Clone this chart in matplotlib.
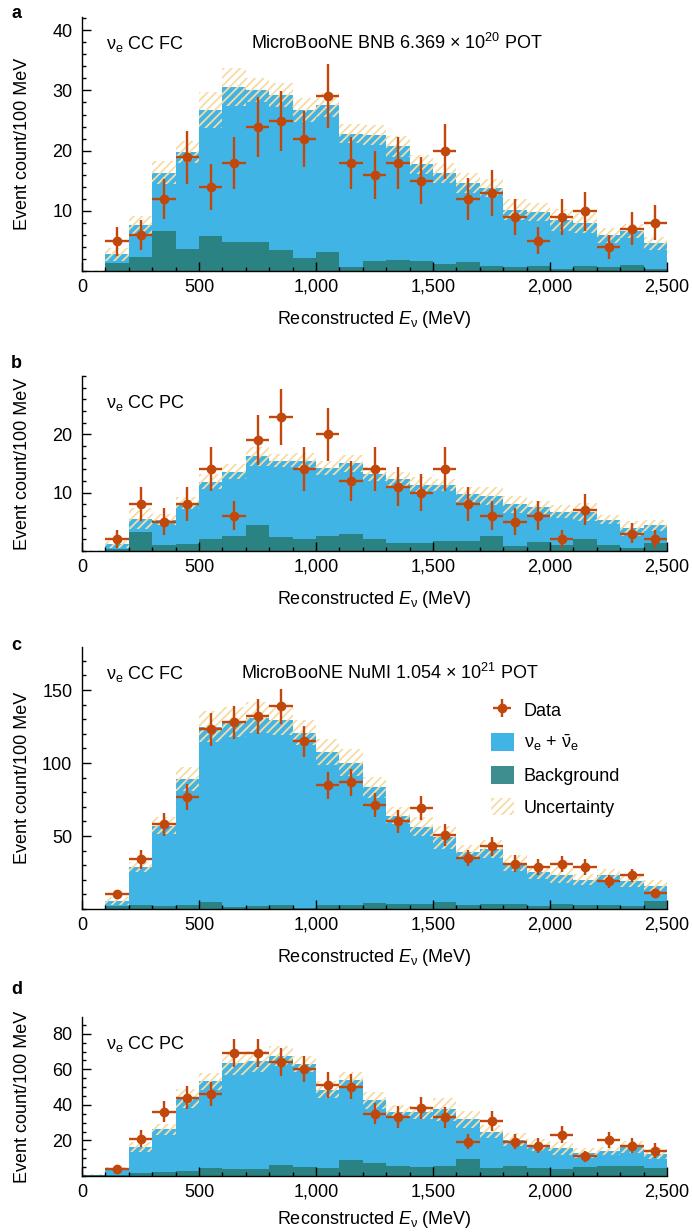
import numpy as np
import matplotlib
matplotlib.use('Agg')
import matplotlib.pyplot as plt
from matplotlib.patches import Patch
from matplotlib.ticker import MultipleLocator

plt.rcParams['font.family'] = ['Liberation Sans', 'DejaVu Sans']
plt.rcParams['mathtext.fontset'] = 'custom'
plt.rcParams['mathtext.rm'] = 'Liberation Sans'
plt.rcParams['mathtext.it'] = 'Liberation Sans:italic'
plt.rcParams['mathtext.bf'] = 'Liberation Sans:bold'
plt.rcParams['hatch.linewidth'] = 1.3

# ---------------- data ----------------
bin_edges = [0, 100, 200, 300, 400, 500, 600, 700, 800, 900, 1000, 1100, 1200,
             1300, 1400, 1500, 1600, 1700, 1800, 1900, 2000, 2100, 2200, 2300,
             2400, 2500]
xtick_vals = [0, 500, 1000, 1500, 2000, 2500]
xtick_labels = ['0', '500', '1,000', '1,500', '2,000', '2,500']

# panel a : nu_e CC FC, BNB
total_a = [0, 2.8, 7.6, 16.3, 19.8, 26.8, 30.6, 30.1, 29.2, 26.8, 27.6, 22.8, 22.6,
           20.7, 17.7, 16.3, 14.6, 13.8, 10.2, 9.8, 8.5, 8.0, 5.9, 6.6, 4.6]
unc_a = [0.2, 1.1, 1.5, 1.9, 1.8, 3.0, 3.2, 2.0, 2.0, 2.0, 2.0, 1.6, 1.7, 1.8, 1.6,
         1.6, 1.6, 1.5, 1.8, 1.5, 1.8, 1.7, 1.3, 1.2, 1.1]
bkg_a = [0, 1.3, 2.3, 6.6, 3.7, 5.8, 4.9, 4.8, 3.5, 2.2, 3.1, 0.7, 1.6, 1.9, 1.7,
         1.2, 1.5, 0.9, 0.7, 0.8, 0.4, 0.8, 0.7, 1.0, 0.3]
data_a = [5, 6, 12, 19, 14, 18, 24, 25, 22, 29, 18, 16, 18, 15, 20, 12, 13, 9, 5, 9,
          10, 4, 7, 8]
errlo_a = [2.5, 2.5, 3.4, 4.5, 3.8, 4.3, 5.0, 5.0, 4.8, 5.3, 4.3, 4.1, 4.3, 3.9, 4.7,
           3.6, 3.8, 3.1, 2.1, 3.1, 3.3, 2.0, 2.6, 2.9]
errhi_a = [2.3, 2.4, 3.3, 4.3, 3.7, 4.2, 4.9, 4.9, 4.6, 5.4, 4.2, 4.0, 4.2, 3.9, 4.4,
           3.4, 3.7, 3.0, 2.3, 3.0, 3.2, 2.0, 2.8, 2.9]

# panel b : nu_e CC PC, BNB
total_b = [0, 1.2, 5.5, 5.4, 8.2, 11.9, 13.6, 16.2, 15.5, 15.4, 14.3, 15.0, 13.2,
           12.3, 11.3, 11.3, 9.7, 9.4, 8.0, 7.5, 6.7, 6.7, 5.4, 3.9, 4.4]
unc_b = [0.1, 0.6, 1.8, 0.9, 1.0, 1.25, 1.3, 1.6, 1.1, 1.4, 1.2, 1.5, 1.2, 1.3, 1.4,
         1.1, 1.3, 1.5, 1.4, 1.1, 1.1, 1.5, 0.85, 1.3, 1.0]
bkg_b = [0, 0.4, 3.3, 1.1, 1.2, 2.1, 2.5, 4.4, 2.4, 2.1, 2.6, 3.0, 2.1, 1.4, 1.3,
         1.7, 1.8, 2.5, 0.8, 1.6, 1.1, 2.0, 1.1, 0.6, 1.4]
data_b = [2, 8, 5, 8, 14, 6, 19, 23, 14, 20, 12, 14, 11, 10, 14, 8, 6, 5, 6, 2, 7,
          np.nan, 3, 2]
errlo_b = [1.4, 2.8, 2.3, 2.8, 3.7, 2.4, 4.2, 4.9, 3.7, 4.5, 3.4, 3.7, 3.3, 3.1, 3.7,
           2.8, 2.4, 2.3, 2.4, 1.4, 2.6, np.nan, 1.7, 1.4]
errhi_b = [1.6, 3.0, 2.3, 3.0, 3.8, 2.5, 4.3, 4.7, 3.8, 4.5, 3.5, 3.8, 3.4, 3.2, 3.8,
           3.0, 2.5, 2.3, 2.5, 1.6, 2.7, np.nan, 1.8, 1.6]

# panel c : nu_e CC FC, NuMI
total_c = [0, 5.5, 29, 57, 89, 125, 128, 131, 129.5, 120.8, 107.6, 100.3, 83.4, 64,
           56.3, 49, 39.2, 41, 31.5, 25.1, 23.5, 20.1, 23.5, 18.9, 16]
unc_c = [0, 2.7, 3.5, 5.7, 8, 10.7, 10.5, 10.5, 10.5, 8.7, 9.1, 9.1, 7.3, 6, 6.6,
         8.2, 4.8, 6.0, 5.4, 4.8, 5.7, 3.8, 3.9, 3.9, 3.6]
bkg_c = [0, 1.8, 2.7, 2, 2.7, 4.5, 1.2, 2.2, 2.5, 1, 2.5, 2.5, 4, 3.4, 3.4, 4.5, 2.4,
         3.6, 3.4, 2, 3.4, 2.7, 2.7, 2.3, 5.5]
data_c = [10, 34, 58, 77, 123, 128, 132, 139, 115, 85, 87, 71, 60, 69, 51, 35, 43,
          31, 29, 31, 29, 19, 23, 11]
errlo_c = [3.0, 6.3, 8.1, 9.1, 11, 11.3, 12.1, 12.2, 10.8, 9.3, 9.3, 8.3, 8.2, 8.3,
           7.7, 5.8, 6.5, 5.8, 5.5, 5.7, 5.5, 4.8, 4.5, 3.4]
errhi_c = [2.9, 6.2, 7.9, 8.6, 11, 11, 11.9, 11.8, 10.4, 8.9, 9.0, 8.6, 7.7, 8.4,
           7.3, 5.6, 6.3, 5.7, 5.0, 5.0, 5.2, 4.3, 4.6, 3.0]

# panel d : nu_e CC PC, NuMI
total_d = [0.8, 4.5, 16.3, 26.3, 43.5, 53.3, 63.5, 64.5, 67.6, 63.1, 48.5, 54.1,
           42.5, 36.2, 35.9, 37.5, 31.9, 25, 20.5, 17.5, 15.6, 12.8, 14.1, 16.5, 12.6]
unc_d = [0.3, 0.8, 2.7, 3.0, 5.5, 4.8, 6.5, 5.8, 5.6, 4.5, 4.7, 4.5, 5.0, 3.6, 3.7,
         6.3, 4.9, 3.4, 3.5, 3.2, 3.7, 2.8, 2.3, 3.4, 3.0]
bkg_d = [0.4, 0.8, 1.5, 2.0, 2.7, 4.5, 4.1, 4.1, 6.2, 5.3, 4.5, 8.9, 7.5, 5.6, 5.0,
         5.5, 9.7, 4.7, 5.6, 4.3, 4.1, 4.9, 5.9, 5.4, 4.3]
data_d = [4, 21, 36, 44, 46, 69, 69, 64, 60, 51, 50, 35, 33, 38, 33, 19, 31, 19, 17,
          23, 11, 20, 17, 14]
errlo_d = [1.5, 4.5, 5.8, 6.5, 6.6, 7.9, 7.9, 7.8, 7.3, 7.2, 6.8, 5.6, 6.0, 6.2, 6.0,
           4.0, 5.6, 4.0, 4.3, 4.7, 3.2, 4.3, 4.1, 3.8]
errhi_d = [1.9, 4.7, 5.9, 6.6, 6.8, 8.1, 8.1, 7.9, 7.7, 7.3, 7.3, 5.9, 6.1, 6.3, 6.0,
           4.7, 5.6, 4.7, 4.2, 5.1, 3.0, 4.8, 4.1, 4.3]

# ---------------- style ----------------
BLUE = '#41b4e6'
TEAL = '#2a8282'
TEAL_LEG = '#3d8f8f'
ORANGE = '#c1470b'
HATCH = '#f5dca5'
FS = 13

W, H = 692, 1232
fig = plt.figure(figsize=(W / 100, H / 100), dpi=100)

AX_L, AX_R = 82, 667
panels = [
    dict(top=17, bot=271, total=total_a, unc=unc_a, bkg=bkg_a, data=data_a,
         lo=errlo_a, hi=errhi_a, ymax=42.2, major=[10, 20, 30, 40], minor=2,
         tag=r'$\mathregular{ν_e}$ CC FC',
         title=r'MicroBooNE BNB 6.369 × 10$^{20}$ POT', tx=251,
         letter='a', ly=14, xl=38),
    dict(top=376, bot=551, total=total_b, unc=unc_b, bkg=bkg_b, data=data_b,
         lo=errlo_b, hi=errhi_b, ymax=30, major=[10, 20], minor=2,
         tag=r'$\mathregular{ν_e}$ CC PC', title=None, tx=0,
         letter='b', ly=363, xl=38),
    dict(top=647, bot=909, total=total_c, unc=unc_c, bkg=bkg_c, data=data_c,
         lo=errlo_c, hi=errhi_c, ymax=179.5, major=[50, 100, 150], minor=10,
         tag=r'$\mathregular{ν_e}$ CC FC',
         title=r'MicroBooNE NuMI 1.054 × 10$^{21}$ POT', tx=241,
         letter='c', ly=646, xl=38),
    dict(top=1017, bot=1176, total=total_d, unc=unc_d, bkg=bkg_d, data=data_d,
         lo=errlo_d, hi=errhi_d, ymax=89.4, major=[20, 40, 60, 80], minor=5,
         tag=r'$\mathregular{ν_e}$ CC PC', title=None, tx=0,
         letter='d', ly=989, xl=33),
]

edges = np.array(bin_edges, dtype=float)
centers = 0.5 * (edges[:-1] + edges[1:])
halfw = 0.5 * (edges[1:] - edges[:-1])

for i, p in enumerate(panels):
    h_px = p['bot'] - p['top']
    ax = fig.add_axes([AX_L / W, 1 - p['bot'] / H, (AX_R - AX_L) / W, h_px / H])
    total = np.array(p['total'], float)
    unc = np.array(p['unc'], float)
    bkg = np.array(p['bkg'], float)

    ax.stairs(total, edges, fill=True, facecolor=BLUE, edgecolor='none', lw=0, zorder=1)
    ax.stairs(bkg, edges, fill=True, facecolor=TEAL, edgecolor='none', lw=0, zorder=1.1)
    ax.stairs(total + unc, edges, baseline=np.clip(total - unc, 0, None), fill=True,
              facecolor='none', edgecolor=HATCH, hatch='////', lw=0, zorder=1.2)

    eb = ax.errorbar(centers[1:], p['data'], xerr=halfw[1:],
                     yerr=[p['lo'], p['hi']], fmt='o', color=ORANGE, ms=6,
                     elinewidth=1.7, capsize=0, zorder=5, label='Data')

    ax.set_xlim(edges[0], edges[-1])
    ax.set_ylim(0, p['ymax'])
    for s in ['top', 'right']:
        ax.spines[s].set_visible(False)
    for s in ['left', 'bottom']:
        ax.spines[s].set_linewidth(1.0)
        ax.spines[s].set_zorder(6)

    ax.set_xticks(xtick_vals)
    ax.set_xticklabels(xtick_labels)
    ax.xaxis.set_minor_locator(MultipleLocator(100))
    ax.set_yticks(p['major'])
    ax.yaxis.set_minor_locator(MultipleLocator(p['minor']))
    ax.tick_params(axis='both', which='major', direction='in', length=6.5,
                   width=1.0, labelsize=FS)
    ax.tick_params(axis='both', which='minor', direction='in', length=3.2, width=1.0)
    ax.tick_params(axis='x', which='major', pad=5.5)
    ax.tick_params(axis='y', which='major', pad=7)

    ax.set_xlabel(r'Reconstructed $\mathit{E}_{\mathregular{ν}}$ (MeV)', fontsize=FS)
    ax.xaxis.set_label_coords(0.5, -p['xl'] / h_px)
    ax.set_ylabel('Event count/100 MeV', fontsize=FS)
    ax.yaxis.set_label_coords(-(AX_L - 31) / (AX_R - AX_L), 0.5)

    ax.text((106 - AX_L) / (AX_R - AX_L), 1 - 32 / h_px, p['tag'],
            transform=ax.transAxes, fontsize=FS, va='baseline', ha='left')
    if p['title']:
        ax.text((p['tx'] - AX_L) / (AX_R - AX_L), 1 - 32 / h_px, p['title'],
                transform=ax.transAxes, fontsize=FS, va='baseline', ha='left')

    fig.text(11 / W, 1 - p['ly'] / H, p['letter'], fontsize=FS, fontweight='bold',
             va='center', ha='left')

    if i == 2:
        handles = [
            eb,
            Patch(facecolor=BLUE, edgecolor='none',
                  label=r'$\mathregular{ν_e}$ + $\mathregular{\bar{ν}_e}$'),
            Patch(facecolor=TEAL_LEG, edgecolor='none', label='Background'),
            Patch(facecolor='none', edgecolor=HATCH, hatch='////', lw=0,
                  label='Uncertainty'),
        ]
        ax.legend(handles=handles, loc='upper left',
                  bbox_to_anchor=(491 / W, 1 - 701 / H),
                  bbox_transform=fig.transFigure, frameon=False, fontsize=FS,
                  borderpad=0, borderaxespad=0, handlelength=1.25,
                  handleheight=1.1, handletextpad=0.55, labelspacing=0.72)

fig.savefig('out.png', dpi=100)
